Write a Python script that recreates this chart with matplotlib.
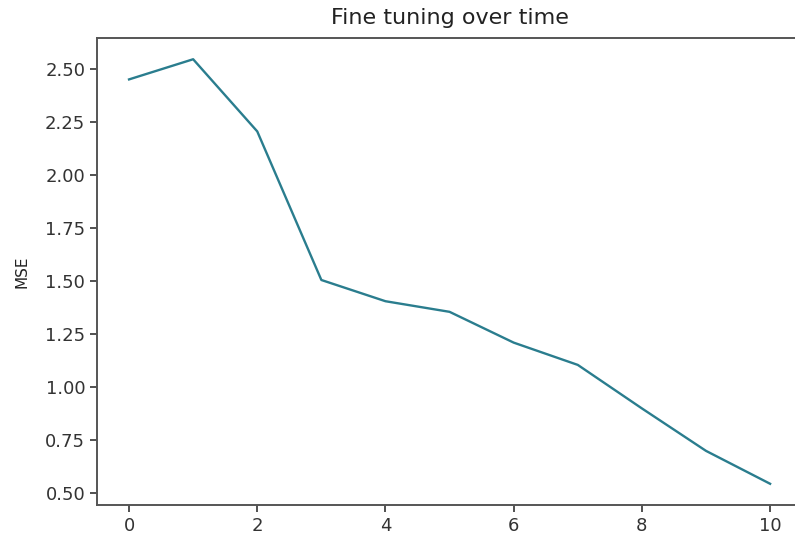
import matplotlib
matplotlib.use("Agg")
import matplotlib.pyplot as plt

# Fine-tuning loss per epoch
epochs = [0, 1, 2, 3, 4, 5, 6, 7, 8, 9, 10]
mse = [2.45, 2.545, 2.205, 1.505, 1.405, 1.355, 1.21, 1.105, 0.90, 0.70, 0.545]

fig = plt.figure(figsize=(7.95, 5.37), dpi=100)
ax = fig.add_axes([0.122, 0.0596, 0.887, 0.8696])

ax.plot(epochs, mse, color="#2a7d8e", linewidth=1.7)

ax.set_title("Fine tuning over time", fontsize=16, color="#222222", pad=10)
ax.set_ylabel("MSE", fontsize=11, color="#222222", labelpad=11)
ax.set_xticks([0, 2, 4, 6, 8, 10])
ax.set_yticks([0.50, 0.75, 1.00, 1.25, 1.50, 1.75, 2.00, 2.25, 2.50])
ax.set_yticklabels([f"{v:.2f}" for v in ax.get_yticks()])
ax.tick_params(labelsize=13, colors="#333333", length=5, width=1.2)
for s in ax.spines.values():
    s.set_color("#555555")
    s.set_linewidth(1.4)
ax.spines["right"].set_visible(False)

fig.savefig("out.png", dpi=100)
